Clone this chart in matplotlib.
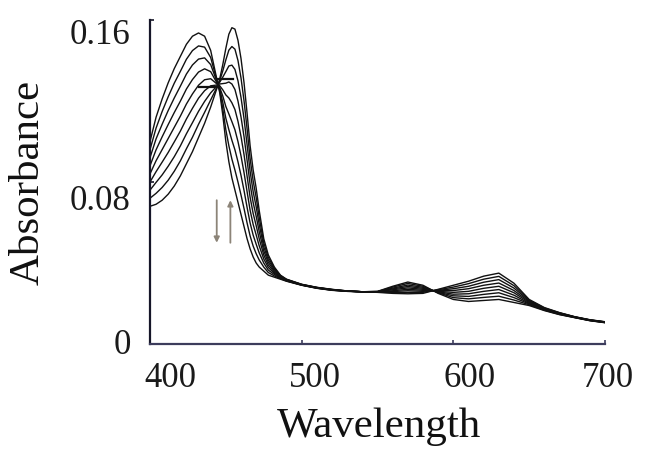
import matplotlib
matplotlib.use("Agg")
import matplotlib.pyplot as plt
from matplotlib.transforms import ScaledTranslation

# ---------------- data ----------------
wavelength = [400, 404, 408, 412, 416, 420, 424, 428, 432, 436, 440, 444, 446, 448, 450,
              452, 454, 456, 458, 460, 462, 464, 466, 468, 470, 472, 475, 478, 482, 486,
              490, 500, 510, 520, 530, 540, 550, 560, 570, 580, 590, 600, 610, 620, 630,
              640, 650, 660, 670, 680, 690, 700]

spec_0 = [.100, .112, .121, .129, .136, .142, .148, .152, .1536, .152, .145, .131, .124, .113, .100,
          .090, .082, .076, .070, .064, .058, .052, .047, .043, .040, .038, .036, .034, .033, .032,
          .031, .029, .0275, .0265, .026, .0258, .026, .0285, .0306, .029, .025, .022, .021, .0215, .022,
          .0205, .019, .0165, .0145, .013, .0115, .0105]
spec_1 = [.096, .1066, .1148, .1221, .1288, .1346, .1406, .1449, .1472, .1466, .1415, .1304, .1249, .1161, .1058,
          .0979, .0913, .0859, .080, .0736, .0669, .0598, .0534, .0484, .0446, .0415, .038, .0353, .0336, .0323,
          .0311, .0291, .0276, .0266, .026, .0258, .0259, .0281, .0299, .0285, .0253, .0229, .0223, .023, .0236,
          .0217, .0194, .0167, .0146, .0131, .0116, .0106]
spec_2 = [.092, .1013, .1085, .1153, .1215, .1273, .1333, .1378, .1407, .1413, .138, .1298, .1258, .1193, .1115,
          .1058, .1006, .0959, .090, .0833, .0758, .0675, .0598, .0538, .0493, .045, .040, .0365, .0343, .0325,
          .0313, .0291, .0276, .0266, .0261, .0258, .0259, .0276, .0291, .028, .0255, .0238, .0235, .0245, .0253,
          .0229, .0198, .0169, .0148, .0131, .0116, .0106]
spec_3 = [.088, .0959, .1023, .1084, .1143, .1199, .1259, .1306, .1343, .1359, .1345, .1291, .1266, .1224, .1173,
          .1136, .1098, .1058, .100, .0929, .0846, .0753, .0661, .0591, .0539, .0485, .042, .0378, .0349, .0328,
          .0314, .0292, .0277, .0267, .0261, .0258, .0258, .0272, .0284, .0275, .0258, .0246, .0248, .026, .0269,
          .0241, .0201, .0171, .0149, .0132, .0117, .0107]
spec_4 = [.084, .0905, .096, .1015, .107, .1125, .1185, .1235, .1278, .1305, .131, .1285, .1275, .1255, .123,
          .1215, .1191, .1158, .110, .1025, .0935, .083, .0725, .0645, .0585, .052, .044, .039, .0355, .033,
          .0315, .0292, .0278, .0268, .0261, .0258, .0258, .0268, .0277, .027, .026, .0255, .026, .0275, .0285,
          .0253, .0205, .0173, .015, .0133, .0118, .0108]
spec_5 = [.080, .0851, .0898, .0946, .0998, .1051, .1111, .1164, .1214, .1251, .1275, .1279, .1284, .1286, .1288,
          .1294, .1284, .1257, .120, .1121, .1024, .0908, .0789, .0699, .0631, .0555, .046, .0403, .0361, .0333,
          .0316, .0293, .0278, .0268, .0261, .0258, .0257, .0263, .027, .0265, .0263, .0264, .0273, .029, .0301,
          .0264, .0209, .0174, .0151, .0133, .0118, .0108]
spec_6 = [.076, .0798, .0835, .0878, .0925, .0978, .1038, .1093, .1149, .1198, .124, .1273, .1293, .1318, .1345,
          .1373, .1377, .1356, .130, .1218, .1113, .0985, .0853, .0753, .0678, .059, .048, .0415, .0368, .0335,
          .0318, .0294, .0279, .0269, .0262, .0258, .0256, .0259, .0263, .026, .0265, .0273, .0285, .0305, .0318,
          .0276, .0213, .0176, .0153, .0134, .0119, .0109]
spec_7 = [.072, .0744, .0773, .0809, .0853, .0904, .0964, .1021, .1085, .1144, .1205, .1266, .1301, .1349, .1403,
          .1451, .1469, .1456, .140, .1314, .1201, .1063, .0916, .0806, .0724, .0625, .050, .0428, .0374, .0338,
          .0319, .0294, .0279, .0269, .0262, .0258, .0256, .0254, .0255, .0255, .0268, .0281, .0298, .032, .0334,
          .0288, .0216, .0178, .0154, .0134, .0119, .0109]
spec_8 = [.068, .069, .071, .074, .078, .083, .089, .095, .102, .109, .117, .126, .131, .138, .146,
          .153, .1562, .1555, .150, .141, .129, .114, .098, .086, .077, .066, .052, .044, .038, .034,
          .032, .0295, .028, .027, .0262, .0258, .0255, .025, .0248, .025, .027, .029, .031, .0335, .035,
          .030, .022, .018, .0155, .0135, .012, .011]
spectra = [spec_0, spec_1, spec_2, spec_3, spec_4, spec_5, spec_6, spec_7, spec_8]

# short straight segments near the isosbestic point
seg_left_x = [432, 445]
seg_left_y = [0.127, 0.127]
seg_right_x = [445, 455]
seg_right_y = [0.131, 0.131]

# arrows (x, y_start, y_end)
arrow_down = (444, 0.071, 0.050)
arrow_up = (453, 0.050, 0.071)

x_ticks = [400, 500, 600, 700]
x_ticklabels = ["400", "500", "600", "700"]
y_ticks = [0, 0.08, 0.16]
y_ticklabels = ["0", "0.08", "0.16"]
x_label = "Wavelength"
y_label = "Absorbance"

# ---------------- figure ----------------
plt.rcParams['font.family'] = ['Liberation Serif', 'DejaVu Serif']
W, H = 645, 459
fig = plt.figure(figsize=(W / 100, H / 100), dpi=100)
ax = fig.add_axes([150 / W, 1 - 344 / H, 455 / W, 324 / H])

for s in spectra:
    ax.plot(wavelength, s, color='#111111', lw=1.0, solid_joinstyle='round')
ax.plot(seg_left_x, seg_left_y, color='#111111', lw=1.6)
ax.plot(seg_right_x, seg_right_y, color='#111111', lw=1.6)

arrow_col = '#8c8478'
for (xa, y0, y1) in (arrow_down, arrow_up):
    ax.annotate('', xy=(xa, y1), xytext=(xa, y0),
                arrowprops=dict(arrowstyle='-|>', color=arrow_col, lw=1.3,
                                mutation_scale=8, shrinkA=0, shrinkB=0))

ax.set_xlim(400, 700)
ax.set_ylim(0, 0.16)
ax.set_xticks(x_ticks)
ax.set_xticklabels(x_ticklabels)
ax.set_yticks(y_ticks)
ax.set_yticklabels(y_ticklabels)

for side in ('top', 'right'):
    ax.spines[side].set_visible(False)
ax.spines['left'].set_color('#161628')
ax.spines['left'].set_linewidth(1.6)
ax.spines['bottom'].set_color('#3c3c5c')
ax.spines['bottom'].set_linewidth(1.6)

ax.tick_params(axis='both', direction='in', length=3, width=1.2, labelsize=25,
               colors='#1a1a1a')
ax.tick_params(axis='x', pad=13, color='#3c3c5c')
ax.tick_params(axis='y', pad=14, color='#161628')

# small per-label nudges (pixels) to follow the reference placement
x_nudge = [20, 13, 16, 3]
y_nudge = [3, -16, -12]
for lab, dx in zip(ax.get_xticklabels(), x_nudge):
    lab.set_transform(lab.get_transform() + ScaledTranslation(dx / 100, 0, fig.dpi_scale_trans))
for lab, dy in zip(ax.get_yticklabels(), y_nudge):
    lab.set_transform(lab.get_transform() + ScaledTranslation(0, dy / 100, fig.dpi_scale_trans))

fig.text(379 / W, 1 - 437 / H, x_label, ha='center', va='baseline', fontsize=31, color='#111111')
fig.text(28 / W, 1 - 182 / H, y_label, ha='center', va='center', rotation=90, fontsize=31,
         color='#111111')

fig.savefig('out.png', dpi=100, facecolor='white')
